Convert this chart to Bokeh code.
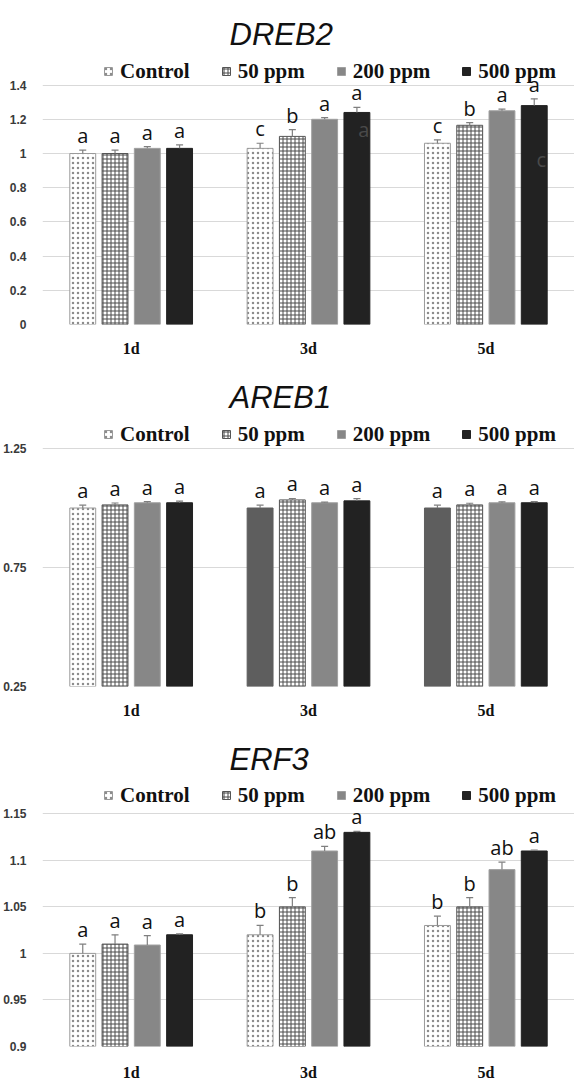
from bokeh.plotting import figure
from bokeh.models import Range1d, FactorRange, FixedTicker, Legend, LegendItem, ColumnDataSource
from bokeh.transform import dodge
from bokeh.layouts import column
from bokeh.core.properties import value
from bokeh.embed import file_html
from bokeh.resources import INLINE

# ---------------- data ----------------
days = ["1d", "3d", "5d"]
treatments = ["Control", "50 ppm", "200 ppm", "500 ppm"]

# DREB2
dreb2_control = [1.00, 1.03, 1.06]
dreb2_50 = [1.00, 1.10, 1.165]
dreb2_200 = [1.03, 1.20, 1.25]
dreb2_500 = [1.03, 1.24, 1.28]
dreb2_control_se = [0.02, 0.03, 0.02]
dreb2_50_se = [0.02, 0.04, 0.015]
dreb2_200_se = [0.01, 0.01, 0.01]
dreb2_500_se = [0.02, 0.03, 0.04]
dreb2_control_sig = ["a", "c", "c"]
dreb2_50_sig = ["a", "b", "b"]
dreb2_200_sig = ["a", "a", "a"]
dreb2_500_sig = ["a", "a", "a"]
dreb2_ticks = [0, 0.2, 0.4, 0.6, 0.8, 1, 1.2, 1.4]
dreb2_tick_labels = ["0", "0.2", "0.4", "0.6", "0.8", "1", "1.2", "1.4"]
dreb2_stray_text = ["a", "c"]
dreb2_stray_day = ["3d", "5d"]
dreb2_stray_y = [1.14, 0.965]

# AREB1
areb1_control = [1.00, 1.00, 1.00]
areb1_50 = [1.013, 1.034, 1.013]
areb1_200 = [1.022, 1.022, 1.022]
areb1_500 = [1.022, 1.030, 1.022]
areb1_control_se = [0.012, 0.012, 0.012]
areb1_50_se = [0.008, 0.006, 0.007]
areb1_200_se = [0.005, 0.003, 0.004]
areb1_500_se = [0.007, 0.009, 0.005]
areb1_control_sig = ["a", "a", "a"]
areb1_50_sig = ["a", "a", "a"]
areb1_200_sig = ["a", "a", "a"]
areb1_500_sig = ["a", "a", "a"]
areb1_ticks = [0.25, 0.75, 1.25]
areb1_tick_labels = ["0.25", "0.75", "1.25"]

# ERF3
erf3_control = [1.00, 1.02, 1.03]
erf3_50 = [1.01, 1.05, 1.05]
erf3_200 = [1.009, 1.11, 1.09]
erf3_500 = [1.02, 1.13, 1.11]
erf3_control_se = [0.01, 0.01, 0.01]
erf3_50_se = [0.01, 0.01, 0.01]
erf3_200_se = [0.01, 0.005, 0.008]
erf3_500_se = [0.001, 0.001, 0.001]
erf3_control_sig = ["a", "b", "b"]
erf3_50_sig = ["a", "b", "b"]
erf3_200_sig = ["a", "ab", "ab"]
erf3_500_sig = ["a", "a", "a"]
erf3_ticks = [0.9, 0.95, 1, 1.05, 1.1, 1.15]
erf3_tick_labels = ["0.9", "0.95", "1", "1.05", "1.1", "1.15"]

# ---------------- styles ----------------
OFFSETS = [-0.273, -0.091, 0.091, 0.273]
BAR_W = 0.146
SERIES_STYLE = [
    dict(fill="white", line="#9a9a9a", hatch="dot", hatch_color="#8c8c8c", hatch_scale=5),
    dict(fill="white", line="#555555", hatch="cross", hatch_color="#4a4a4a", hatch_scale=4),
    dict(fill="#878787", line="#a0a0a0", hatch=" ", hatch_color="#878787", hatch_scale=4),
    dict(fill="#222222", line="#222222", hatch=" ", hatch_color="#222222", hatch_scale=4),
]


def panel(title, means, ses, sigs, ticks, tick_labels, y_start, px_per_unit,
          height, top_border, bottom_border, legend_from_top, x_standoff,
          dark_control_days=(), stray=None):
    frame_h = height - top_border - bottom_border
    y_end = y_start + frame_h / px_per_unit
    p = figure(x_range=FactorRange(*days), y_range=Range1d(y_start, y_end),
               width=574, height=height, output_backend="svg", toolbar_location=None,
               min_border_left=41, min_border_right=0, min_border_top=top_border,
               min_border_bottom=bottom_border)
    p.outline_line_color = None
    p.background_fill_color = "white"
    p.xgrid.grid_line_color = None
    p.ygrid.grid_line_color = "#d9d9d9"
    p.ygrid.grid_line_width = 1

    p.title.text = title
    p.title.align = "left"
    p.title.offset = 187
    p.title.text_font = "Liberation Sans"
    p.title.text_font_style = "italic"
    p.title.text_font_size = "31px"
    p.title.text_color = "#111111"
    p.title.standoff = 8

    p.yaxis.ticker = FixedTicker(ticks=ticks)
    p.yaxis.major_label_overrides = {t: l for t, l in zip(ticks, tick_labels)}
    p.yaxis.axis_line_color = None
    p.yaxis.major_tick_line_color = None
    p.yaxis.minor_tick_line_color = None
    p.yaxis.major_label_text_font = "Liberation Sans"
    p.yaxis.major_label_text_font_style = "bold"
    p.yaxis.major_label_text_font_size = "12px"
    p.yaxis.major_label_text_color = "#3a3a3a"
    p.yaxis.major_label_standoff = 10

    p.xaxis.axis_line_color = None
    p.xaxis.major_tick_line_color = None
    p.xaxis.minor_tick_line_color = None
    p.xaxis.major_label_text_font = "Liberation Serif"
    p.xaxis.major_label_text_font_style = "bold"
    p.xaxis.major_label_text_font_size = "16px"
    p.xaxis.major_label_text_color = "#111111"
    p.xaxis.major_label_standoff = x_standoff

    items = []
    for i, name in enumerate(treatments):
        st = SERIES_STYLE[i]
        fills, lines, hatches = [], [], []
        for d in days:
            if i == 0 and d in dark_control_days:
                fills.append("#5e5e5e"); lines.append("#5e5e5e"); hatches.append(" ")
            else:
                fills.append(st["fill"]); lines.append(st["line"]); hatches.append(st["hatch"])
        src = ColumnDataSource(dict(
            day=days, mean=means[i], top=[m + s for m, s in zip(means[i], ses[i])],
            sig=sigs[i], fill=fills, line=lines, hatch=hatches))
        xd = dodge("day", OFFSETS[i], range=p.x_range)
        r = p.vbar(x=xd, top="mean", bottom=y_start, width=BAR_W, source=src,
                   fill_color="fill", line_color="line", line_width=1,
                   hatch_pattern="hatch", hatch_color=st["hatch_color"],
                   hatch_scale=st["hatch_scale"], hatch_weight=1)
        p.segment(x0=xd, y0="mean", x1=xd, y1="top", source=src,
                  line_color="#7f7f7f", line_width=1.2)
        p.scatter(x=xd, y="top", marker="dash", size=7, source=src,
                  line_color="#7f7f7f", line_width=1.2)
        p.text(x=xd, y="top", text="sig", source=src, text_align="center",
               text_baseline="bottom", y_offset=-1,
               text_font=value("Open Sans"), text_font_size="20px", text_color="#111111")
        items.append(LegendItem(label=name, renderers=[r]))

    if stray is not None:
        s_text, s_day, s_y = stray
        ssrc = ColumnDataSource(dict(day=s_day, y=s_y, t=s_text))
        p.text(x=dodge("day", OFFSETS[3], range=p.x_range), y="y", text="t", source=ssrc,
               text_align="center", text_baseline="middle", x_offset=7,
               text_font=value("Open Sans"), text_font_size="20px", text_color="#4a4a4a")

    legend = Legend(items=items, orientation="horizontal",
                    location=(61, frame_h - legend_from_top - 15),
                    label_text_font="Liberation Serif", label_text_font_style="bold",
                    label_text_font_size="21px", label_text_color="#111111",
                    glyph_width=10, glyph_height=10, label_standoff=7, spacing=31,
                    padding=2, margin=0, border_line_color=None, background_fill_alpha=0,
                    label_height=26)
    p.add_layout(legend)
    return p


p1 = panel("DREB2",
           [dreb2_control, dreb2_50, dreb2_200, dreb2_500],
           [dreb2_control_se, dreb2_50_se, dreb2_200_se, dreb2_500_se],
           [dreb2_control_sig, dreb2_50_sig, dreb2_200_sig, dreb2_500_sig],
           dreb2_ticks, dreb2_tick_labels, 0, 171, 371, 55, 47, 14, 9,
           stray=(dreb2_stray_text, dreb2_stray_day, dreb2_stray_y))
p2 = panel("AREB1",
           [areb1_control, areb1_50, areb1_200, areb1_500],
           [areb1_control_se, areb1_50_se, areb1_200_se, areb1_500_se],
           [areb1_control_sig, areb1_50_sig, areb1_200_sig, areb1_500_sig],
           areb1_ticks, areb1_tick_labels, 0.25, 238, 362, 47, 47, 14, 9,
           dark_control_days=("3d", "5d"))
p3 = panel("ERF3",
           [erf3_control, erf3_50, erf3_200, erf3_500],
           [erf3_control_se, erf3_50_se, erf3_200_se, erf3_500_se],
           [erf3_control_sig, erf3_50_sig, erf3_200_sig, erf3_500_sig],
           erf3_ticks, erf3_tick_labels, 0.9, 952, 350, 47, 31, 19, 11)

layout = column(p1, p2, p3, spacing=0)
open("out.html", "w").write(file_html(layout, INLINE))
